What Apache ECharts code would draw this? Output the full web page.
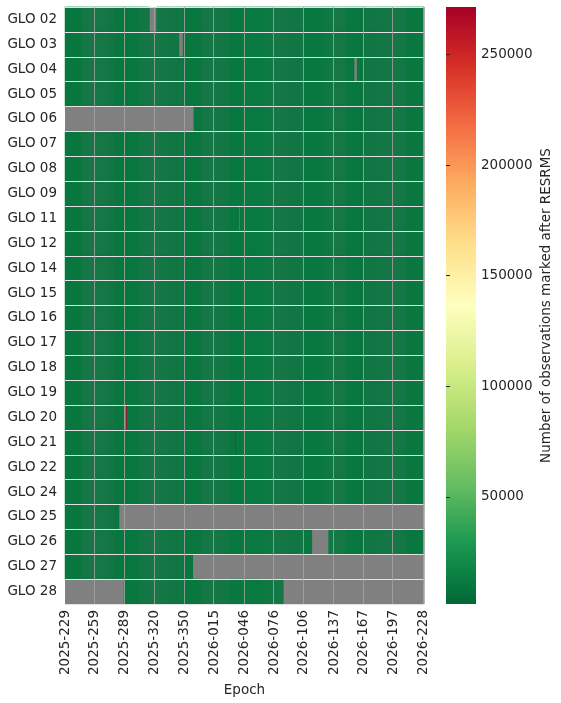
<!DOCTYPE html>
<html lang="en">
<head>
<meta charset="UTF-8">
<title>GLO observations marked after RESRMS</title>
<script src="https://cdn.jsdelivr.net/npm/echarts@6/dist/echarts.min.js"></script>
<style>html,body{margin:0;padding:0;background:#fff}</style>
</head>
<body>
<div id="main" style="width:561px;height:703px"></div>
<script type="text/javascript">
var satellites = ['GLO 02', 'GLO 03', 'GLO 04', 'GLO 05', 'GLO 06', 'GLO 07', 'GLO 08', 'GLO 09',
    'GLO 11', 'GLO 12', 'GLO 14', 'GLO 15', 'GLO 16', 'GLO 17', 'GLO 18', 'GLO 19',
    'GLO 20', 'GLO 21', 'GLO 22', 'GLO 24', 'GLO 25', 'GLO 26', 'GLO 27', 'GLO 28'];
var tickLabels = ['2025-229', '2025-259', '2025-289', '2025-320', '2025-350', '2026-015', '2026-046',
    '2026-076', '2026-106', '2026-137', '2026-167', '2026-197', '2026-228'];
// RdYlGn reversed
var colormap = ['#006837', '#1a9850', '#66bd63', '#a6d96a', '#d9ef8b', '#ffffbf',
    '#fee08b', '#fdae61', '#f46d43', '#d73027', '#a50026'];
var vMin = 1500, vMax = 271500;
var cbTicks = [50000, 100000, 150000, 200000, 250000];

// usual level per epoch range: [first epoch index, last epoch index, value]
var darkBands = [
    [0, 15, 10500], [51, 73, 10500], [120, 137, 10500], [168, 211, 11000],
    [242, 272, 11000], [286, 301, 10500], [347, 364, 10500]
];
var paleBands = [
    [16, 50, 9000], [74, 119, 9000], [138, 167, 9000], [212, 241, 9000],
    [273, 285, 9000], [302, 346, 9000]
];
// epochs without data per satellite: [first, last]
var gaps = {
    'GLO 02': [[86, 92]],
    'GLO 03': [[116, 119]],
    'GLO 04': [[294, 296]],
    'GLO 06': [[0, 130]],
    'GLO 11': [[177, 177]],
    'GLO 25': [[55, 364]],
    'GLO 26': [[251, 267]],
    'GLO 27': [[130, 364]],
    'GLO 28': [[0, 59], [222, 364]]
};
// single epochs that stand out: [satellite, epoch index, value]
var spikes = [
    ['GLO 20', 61, 215000],
    ['GLO 20', 62, 271500],
    ['GLO 21', 173, 262000]
];

// epoch labels, year-doy, one per day
var epochs = [];
for (var i = 0; i < 365; i++) {
    var d = 229 + i, y = 2025;
    if (d > 365) { d -= 365; y = 2026; }
    epochs.push(y + '-' + String(d).padStart(3, '0'));
}
var tickIdx = tickLabels.map(function (t) { return epochs.indexOf(t); });
function isTick(idx) { return tickIdx.indexOf(idx) >= 0; }

function inRuns(runs, idx) {
    for (var k = 0; k < runs.length; k++) {
        if (idx >= runs[k][0] && idx <= runs[k][1]) return runs[k];
    }
    return null;
}
function inGap(sat, idx) {
    var g = gaps[sat] || [];
    for (var k = 0; k < g.length; k++) {
        if (idx >= g[k][0] && idx <= g[k][1]) return true;
    }
    return false;
}

var darkCells = [], paleCells = [];
satellites.forEach(function (sat, r) {
    for (var i = 0; i < epochs.length; i++) {
        if (inGap(sat, i)) continue;
        var spike = spikes.filter(function (s) { return s[0] === sat && s[1] === i; })[0];
        if (spike) { darkCells.push([i, r, spike[2]]); continue; }
        var run = inRuns(darkBands, i);
        if (run) { darkCells.push([i, r, run[2]]); continue; }
        run = inRuns(paleBands, i);
        if (run) paleCells.push([i, r, run[2]]);
    }
});

var gradStops = colormap.map(function (c, k) {
    return { offset: 1 - k / (colormap.length - 1), color: c };
});

var font = 'DejaVu Sans';
var txt = '#262626';
var myChart = echarts.init(document.getElementById('main'));
var option = {
    animation: false,
    textStyle: { fontFamily: font },
    grid: [
        { left: 65, top: 7, width: 359, height: 597, show: true, backgroundColor: '#808080', borderWidth: 0 },
        { left: 446, top: 7, width: 30, height: 597, show: true, borderWidth: 0,
          backgroundColor: new echarts.graphic.LinearGradient(0, 0, 0, 1, gradStops) }
    ],
    xAxis: [{
        type: 'category',
        gridIndex: 0,
        data: epochs,
        axisLine: { show: false },
        axisTick: { show: false },
        axisLabel: { rotate: 90, interval: function (idx) { return isTick(idx); },
            fontSize: 13.5, color: txt, fontFamily: font, margin: 6 },
        splitLine: { show: true, interval: function (idx) { return isTick(idx) && idx > 0; },
            lineStyle: { color: 'rgba(165,165,165,0.8)', width: 1 } },
        name: 'Epoch',
        nameLocation: 'middle',
        nameGap: 79,
        nameTextStyle: { fontSize: 13.5, color: txt, fontFamily: font },
        z: 10
    }, {
        type: 'value', gridIndex: 1, show: false, min: 0, max: 1
    }],
    yAxis: [{
        type: 'category',
        gridIndex: 0,
        data: satellites,
        inverse: true,
        axisLine: { show: false },
        axisTick: { show: false },
        axisLabel: { fontSize: 13.5, color: txt, fontFamily: font, margin: 8 },
        splitLine: { show: true, lineStyle: { color: '#e2e2e2', width: 1 } },
        z: 10
    }, {
        type: 'value',
        gridIndex: 1,
        position: 'right',
        min: vMin,
        max: vMax,
        axisLine: { show: false },
        axisTick: { show: true, length: 4, customValues: cbTicks, lineStyle: { color: txt } },
        axisLabel: { customValues: cbTicks, fontSize: 13.5, color: txt, fontFamily: font, margin: 5,
            formatter: function (v) { return String(v); } },
        splitLine: { show: false },
        name: 'Number of observations marked after RESRMS',
        nameLocation: 'middle',
        nameRotate: 90,
        nameGap: 63,
        nameTextStyle: { fontSize: 13.5, color: txt, fontFamily: font }
    }],
    visualMap: {
        show: false,
        type: 'continuous',
        seriesIndex: [0, 1],
        min: vMin,
        max: vMax,
        inRange: { color: colormap }
    },
    series: [{
        type: 'heatmap',
        xAxisIndex: 0,
        yAxisIndex: 0,
        data: darkCells,
        progressive: 0,
        itemStyle: { borderWidth: 0 },
        emphasis: { disabled: true }
    }, {
        type: 'heatmap',
        xAxisIndex: 0,
        yAxisIndex: 0,
        data: paleCells,
        progressive: 0,
        itemStyle: { borderWidth: 0, opacity: 0.85 },
        emphasis: { disabled: true }
    }]
};
myChart.setOption(option);
</script>
</body>
</html>
